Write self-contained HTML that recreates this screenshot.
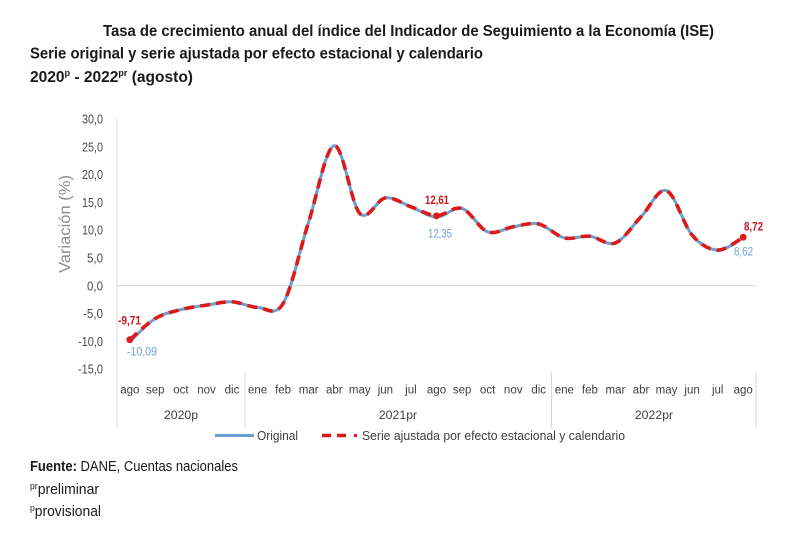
<!DOCTYPE html>
<html>
<head>
<meta charset="utf-8">
<style>
html,body{margin:0;padding:0;background:#fff;}
svg{display:block;}
text{font-family:"Liberation Sans",Arial,sans-serif;}
</style>
</head>
<body>
<svg id="c" width="800" height="533" viewBox="0 0 800 533" xmlns="http://www.w3.org/2000/svg">
  <rect width="800" height="533" fill="#fff"/>
  <!-- Titles -->
  <text x="103" y="36" font-size="15.5" font-weight="bold" fill="#1a1a1a" textLength="611" lengthAdjust="spacingAndGlyphs">Tasa de crecimiento anual del índice del Indicador de Seguimiento a la Economía (ISE)</text>
  <text x="30" y="58.5" font-size="15.5" font-weight="bold" fill="#1a1a1a" textLength="453" lengthAdjust="spacingAndGlyphs">Serie original y serie ajustada por efecto estacional y calendario</text>
  <text x="30" y="82" font-size="15.5" font-weight="bold" fill="#1a1a1a" textLength="163" lengthAdjust="spacingAndGlyphs">2020<tspan font-size="9" dy="-6">p</tspan><tspan dy="6"> - 2022</tspan><tspan font-size="9" dy="-6">pr</tspan><tspan dy="6"> (agosto)</tspan></text>

  <!-- Y axis title -->
  <text transform="translate(70,224) rotate(-90)" text-anchor="middle" font-size="15.5" fill="#8c8c8c" textLength="98" lengthAdjust="spacingAndGlyphs">Variación (%)</text>

  <!-- Y tick labels -->
  <g font-size="12.5" fill="#4a4a4a" text-anchor="end">
    <text x="103" y="123.5" textLength="21" lengthAdjust="spacingAndGlyphs">30,0</text>
    <text x="103" y="151.3" textLength="21" lengthAdjust="spacingAndGlyphs">25,0</text>
    <text x="103" y="179.1" textLength="21" lengthAdjust="spacingAndGlyphs">20,0</text>
    <text x="103" y="206.9" textLength="21" lengthAdjust="spacingAndGlyphs">15,0</text>
    <text x="103" y="234.7" textLength="21" lengthAdjust="spacingAndGlyphs">10,0</text>
    <text x="103" y="262.5" textLength="16" lengthAdjust="spacingAndGlyphs">5,0</text>
    <text x="103" y="290.3" textLength="16" lengthAdjust="spacingAndGlyphs">0,0</text>
    <text x="103" y="318.1" textLength="20" lengthAdjust="spacingAndGlyphs">-5,0</text>
    <text x="103" y="345.9" textLength="25" lengthAdjust="spacingAndGlyphs">-10,0</text>
    <text x="103" y="373.7" textLength="25" lengthAdjust="spacingAndGlyphs">-15,0</text>
  </g>

  <!-- axis lines -->
  <line x1="117" y1="119" x2="117" y2="428" stroke="#d9d9d9" stroke-width="1"/>
  <line x1="117" y1="285.7" x2="756" y2="285.7" stroke="#d9d9d9" stroke-width="1.2"/>
  <line x1="245" y1="372" x2="245" y2="428" stroke="#d9d9d9" stroke-width="1"/>
  <line x1="551.5" y1="372" x2="551.5" y2="428" stroke="#d9d9d9" stroke-width="1"/>
  <line x1="756" y1="372" x2="756" y2="428" stroke="#d9d9d9" stroke-width="1"/>

  <!-- Month labels -->
  <g font-size="11.5" fill="#404040" text-anchor="middle" id="months">
    <text x="129.8" y="393.5">ago</text>
    <text x="155.3" y="393.5">sep</text>
    <text x="180.9" y="393.5">oct</text>
    <text x="206.5" y="393.5">nov</text>
    <text x="232.0" y="393.5">dic</text>
    <text x="257.6" y="393.5">ene</text>
    <text x="283.1" y="393.5">feb</text>
    <text x="308.7" y="393.5">mar</text>
    <text x="334.3" y="393.5">abr</text>
    <text x="359.8" y="393.5">may</text>
    <text x="385.4" y="393.5">jun</text>
    <text x="410.9" y="393.5">jul</text>
    <text x="436.5" y="393.5">ago</text>
    <text x="462.1" y="393.5">sep</text>
    <text x="487.6" y="393.5">oct</text>
    <text x="513.2" y="393.5">nov</text>
    <text x="538.7" y="393.5">dic</text>
    <text x="564.3" y="393.5">ene</text>
    <text x="589.9" y="393.5">feb</text>
    <text x="615.4" y="393.5">mar</text>
    <text x="641.0" y="393.5">abr</text>
    <text x="666.5" y="393.5">may</text>
    <text x="692.1" y="393.5">jun</text>
    <text x="717.7" y="393.5">jul</text>
    <text x="743.2" y="393.5">ago</text>
  </g>
  <!-- Year labels -->
  <g font-size="12.3" fill="#404040" text-anchor="middle">
    <text x="181" y="419">2020p</text>
    <text x="398" y="419">2021pr</text>
    <text x="654" y="419">2022pr</text>
  </g>

  <!-- Series -->
  <path id="blue" d="" fill="none" stroke="#6a9fd2" stroke-width="3" stroke-linejoin="round"/>
  <path id="red" d="" fill="none" stroke="#dc1a1a" stroke-width="3.6" stroke-dasharray="10 6"/>
  <circle cx="129.8" cy="339.7" r="3.4" fill="#dc1a1a"/>
  <circle cx="436.5" cy="215.8" r="3.4" fill="#dc1a1a"/>
  <circle cx="743.2" cy="237.2" r="3.4" fill="#dc1a1a"/>

  <!-- Data labels -->
  <g font-size="12">
    <text x="118" y="324.5" font-weight="bold" fill="#c8161d" textLength="23" lengthAdjust="spacingAndGlyphs">-9,71</text>
    <text x="127" y="355.5" fill="#6a9fd2" textLength="30" lengthAdjust="spacingAndGlyphs">-10,09</text>
    <text x="425" y="204" font-weight="bold" fill="#c8161d" textLength="24" lengthAdjust="spacingAndGlyphs">12,61</text>
    <text x="428" y="237.5" fill="#6a9fd2" textLength="24" lengthAdjust="spacingAndGlyphs">12,35</text>
    <text x="744" y="230.5" font-weight="bold" fill="#c8161d" textLength="19" lengthAdjust="spacingAndGlyphs">8,72</text>
    <text x="734" y="255.5" fill="#6a9fd2" textLength="19" lengthAdjust="spacingAndGlyphs">8,62</text>
  </g>

  <!-- Legend -->
  <line x1="215" y1="435.5" x2="254" y2="435.5" stroke="#6a9fd2" stroke-width="3"/>
  <text x="257" y="440" font-size="12.8" fill="#404040" textLength="41" lengthAdjust="spacingAndGlyphs">Original</text>
  <line x1="322" y1="435.5" x2="346" y2="435.5" stroke="#dc1a1a" stroke-width="3.6" stroke-dasharray="9 6"/>
  <rect x="354" y="434" width="3" height="3" fill="#dc1a1a"/>
  <text x="362" y="440" font-size="12.8" fill="#404040" textLength="263" lengthAdjust="spacingAndGlyphs">Serie ajustada por efecto estacional y calendario</text>

  <!-- Footer -->
  <text x="30" y="471" font-size="14.5" fill="#1a1a1a" textLength="208" lengthAdjust="spacingAndGlyphs"><tspan font-weight="bold">Fuente:</tspan> DANE, Cuentas nacionales</text>
  <text x="30" y="494" font-size="14.5" fill="#1a1a1a" textLength="69" lengthAdjust="spacingAndGlyphs"><tspan font-size="9" dy="-5">pr</tspan><tspan dy="5">preliminar</tspan></text>
  <text x="30" y="516" font-size="14.5" fill="#1a1a1a" textLength="71" lengthAdjust="spacingAndGlyphs"><tspan font-size="9" dy="-5">p</tspan><tspan dy="5">provisional</tspan></text>
</svg>
<script>
(function(){
  var xs=[];for(var i=0;i<25;i++)xs.push(129.78+25.56*i);
  var blueV=[-10.09,-5.9,-4.3,-3.5,-2.9,-3.9,-3.2,11.5,25.2,13.0,15.8,14.2,12.35,13.9,9.7,10.6,11.1,8.6,8.9,7.7,12.4,17.1,9.1,6.4,8.62];
  var redV=blueV.slice();redV[0]=-9.71;redV[12]=12.61;redV[24]=8.72;
  function y(v){return 285.7-5.557*v;}
  function path(vals){
    var p=vals.map(function(v,i){return [xs[i],y(v)];});
    var n=p.length,d="M"+p[0][0].toFixed(1)+","+p[0][1].toFixed(1);
    for(var i=0;i<n-1;i++){
      var p0=p[Math.max(i-1,0)],p1=p[i],p2=p[i+1],p3=p[Math.min(i+2,n-1)];
      var c1x=p1[0]+(p2[0]-p0[0])/6,c1y=p1[1]+(p2[1]-p0[1])/6;
      var c2x=p2[0]-(p3[0]-p1[0])/6,c2y=p2[1]-(p3[1]-p1[1])/6;
      d+=" C"+c1x.toFixed(1)+","+c1y.toFixed(1)+" "+c2x.toFixed(1)+","+c2y.toFixed(1)+" "+p2[0].toFixed(1)+","+p2[1].toFixed(1);
    }
    return d;
  }
  document.getElementById("blue").setAttribute("d",path(blueV));
  document.getElementById("red").setAttribute("d",path(redV));
})();
</script>
</body>
</html>
